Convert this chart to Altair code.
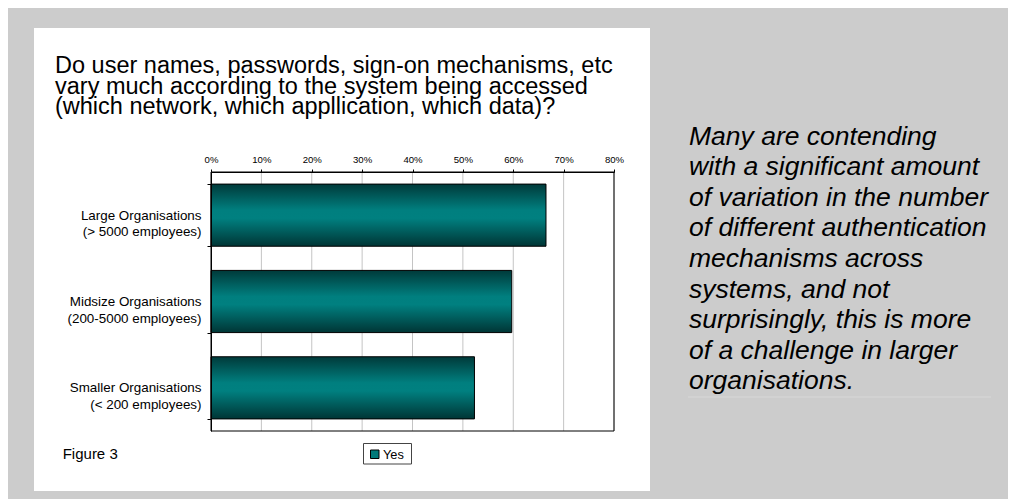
import altair as alt
import pandas as pd

title_lines = [
    "Do user names, passwords, sign-on mechanisms, etc",
    "vary much according to the system being accessed",
    "(which network, which appllication, which data)?",
]
categories = [
    "Large Organisations\n(> 5000 employees)",
    "Midsize Organisations\n(200-5000 employees)",
    "Smaller Organisations\n(< 200 employees)",
]
yes_share = [0.665, 0.597, 0.523]
tick_values = [0.0, 0.1, 0.2, 0.3, 0.4, 0.5, 0.6, 0.7, 0.8]
series_name = ["Yes"]
figure_label = ["Figure 3"]
comment_lines = [
    "Many are contending",
    "with a significant amount",
    "of variation in the number",
    "of different authentication",
    "mechanisms across",
    "systems, and not",
    "surprisingly, this is more",
    "of a challenge in larger",
    "organisations.",
]

W, H = 403, 259
FONT = "Liberation Sans"

bars_df = pd.DataFrame({"org": categories, "share": yes_share})
grid_df = pd.DataFrame({"share": tick_values[1:]})
one = pd.DataFrame({"k": [0]})

x_scale = alt.Scale(domain=[0, 0.8], nice=False, zero=True)
y_scale = alt.Scale(domain=categories, paddingInner=0.28, paddingOuter=0.14)

x_axis = alt.Axis(
    orient="top", values=tick_values, format=".0%", title=None, grid=False,
    labelFont=FONT, labelFontSize=9.6, labelColor="black", labelPadding=5,
    tickSize=3, tickColor="black", domainColor="black", labelFlush=False,
    labelOverlap=False, zindex=1,
)

panel = alt.Chart(one).mark_rect(color="white").encode(
    x=alt.value(-177), x2=alt.value(439), y=alt.value(-144), y2=alt.value(319)
)

grid = alt.Chart(grid_df).mark_rule(color="#c4c4c4", strokeWidth=1).encode(
    x=alt.X("share:Q", scale=x_scale, axis=x_axis)
)

gradient = alt.Gradient(
    gradient="linear", x1=0, x2=0, y1=0, y2=1,
    stops=[
        alt.GradientStop(color="#003a3a", offset=0),
        alt.GradientStop(color="#007f7f", offset=0.42),
        alt.GradientStop(color="#008080", offset=0.55),
        alt.GradientStop(color="#003535", offset=1),
    ],
)

bars = alt.Chart(bars_df).mark_bar(color=gradient, stroke="black", strokeWidth=1).encode(
    x=alt.X("share:Q", scale=x_scale, axis=x_axis),
    y=alt.Y(
        "org:N", scale=y_scale, sort=categories,
        axis=alt.Axis(
            title=None, tickBand="extent", tickSize=4, tickColor="black",
            domainColor="black", labelFont=FONT, labelFontSize=13.4,
            labelLineHeight=16.7, labelPadding=6, labelColor="black",
            labelExpr="split(datum.label, '\\n')", labelLimit=400, zindex=1,
        ),
    ),
)

border = alt.Chart(one).mark_rect(fillOpacity=0, stroke="black", strokeWidth=1).encode(
    x=alt.value(0), x2=alt.value(W), y=alt.value(0), y2=alt.value(H)
)

title = alt.Chart(pd.DataFrame({"t": ["\n".join(title_lines)]})).mark_text(
    align="left", baseline="alphabetic", fontSize=23.5, lineHeight=20.5,
    font=FONT, lineBreak="\n", color="black",
).encode(text="t:N", x=alt.value(-156), y=alt.value(-99))

comment = alt.Chart(pd.DataFrame({"t": ["\n".join(comment_lines)]})).mark_text(
    align="left", baseline="alphabetic", fontSize=26.5, lineHeight=30.6,
    font=FONT, fontStyle="italic", lineBreak="\n", color="black",
).encode(text="t:N", x=alt.value(478), y=alt.value(-27.4))

comment_rule = alt.Chart(one).mark_rule(color="#d8d8d8", strokeWidth=1).encode(
    x=alt.value(477), x2=alt.value(780), y=alt.value(225)
)

figure = alt.Chart(pd.DataFrame({"t": figure_label})).mark_text(
    align="left", baseline="middle", fontSize=15, font=FONT, color="black",
).encode(text="t:N", x=alt.value(-148.3), y=alt.value(282))

leg_box = alt.Chart(one).mark_rect(fill="white", stroke="#444444", strokeWidth=1).encode(
    x=alt.value(152.5), x2=alt.value(200.5), y=alt.value(271.5), y2=alt.value(292)
)
leg_sym = alt.Chart(one).mark_rect(fill="#007a7a", stroke="black", strokeWidth=1).encode(
    x=alt.value(159.5), x2=alt.value(168), y=alt.value(278), y2=alt.value(286.5)
)
leg_text = alt.Chart(pd.DataFrame({"t": series_name})).mark_text(
    align="left", baseline="middle", fontSize=12.8, font=FONT, color="black",
).encode(text="t:N", x=alt.value(172), y=alt.value(282.5))

chart = alt.layer(
    panel, grid, bars, border, title, comment, comment_rule, figure,
    leg_box, leg_sym, leg_text,
).properties(
    width=W, height=H, background="#cccccc",
    padding={"left": 203, "top": 164, "right": 394, "bottom": 68},
    autosize=alt.AutoSizeParams(type="none"),
).configure_view(stroke=None)

chart.save("out.html", embed_options={"renderer": "svg", "actions": False})
